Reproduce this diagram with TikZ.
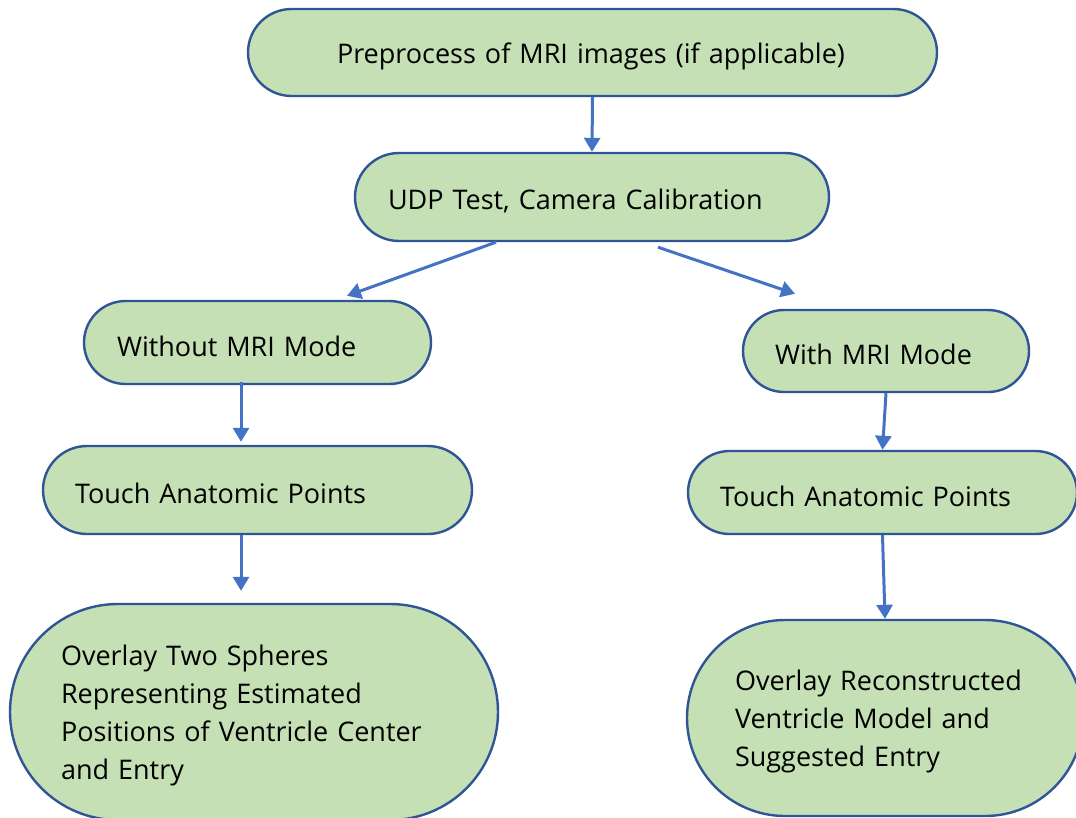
\documentclass[tikz,border=0pt]{standalone}
\usepackage{fontspec}
\setmainfont{Open Sans}
\usetikzlibrary{arrows.meta}
\definecolor{boxfill}{HTML}{C5E0B4}
\definecolor{boxline}{HTML}{2F5597}
\definecolor{arrowblue}{HTML}{4472C4}
% lower a line of a label a little without changing its box
\newcommand{\lowtext}[1]{\raisebox{-3.5pt}[\height][\depth]{#1}}
\tikzset{
  pill/.style={draw=boxline, fill=boxfill, line width=2.4pt, align=left,
    font=\fontsize{27}{38}\selectfont, text=black, inner ysep=0pt},
  arr/.style={draw=arrowblue, line width=3pt,
    -{Triangle[length=14pt,width=16pt]}},
}
\begin{document}
\begin{tikzpicture}[x=1pt,y=-1pt]
\useasboundingbox (0,0) rectangle (1076,817);
\clip (0,0) rectangle (1076,817);
% pill-shaped step boxes: rounded corners at half height, text set from the left
\node[pill, rounded corners=43.5pt, minimum height=87pt, inner xsep=89pt, text width=511pt]
  (pre) at (592.5,52.5) {\lowtext{Preprocess of MRI images (if applicable)}};
\node[pill, rounded corners=44pt, minimum height=88pt, inner xsep=33pt, text width=408pt]
  (udp) at (592,197) {\lowtext{UDP Test, Camera Calibration}};
\node[pill, rounded corners=41.5pt, minimum height=83pt, inner xsep=33pt, text width=281pt]
  (wo) at (257.5,342.5) {\lowtext{Without MRI Mode}};
\node[pill, rounded corners=41pt, minimum height=82pt, inner xsep=32pt, text width=222pt]
  (wi) at (886,351) {\lowtext{With MRI Mode}};
\node[pill, rounded corners=44pt, minimum height=88pt, inner xsep=32pt, text width=365pt]
  (tl) at (257.5,490) {\lowtext{Touch Anatomic Points}};
\node[pill, rounded corners=41.5pt, minimum height=83pt, inner xsep=32pt, text width=325pt]
  (tr) at (882.5,492.5) {\lowtext{Touch Anatomic Points}};
\node[pill, rounded corners=108pt, minimum height=216pt, inner xsep=51pt, text width=386pt]
  (ol) at (254,712) {\lowtext{Overlay Two Spheres}\\\lowtext{Representing Estimated}\\
    \lowtext{Positions of Ventricle Center}\\\lowtext{and Entry}};
\node[pill, rounded corners=98pt, minimum height=196pt, inner xsep=48pt, text width=300pt]
  (or) at (885,718) {\lowtext{Overlay Reconstructed}\\\lowtext{Ventricle Model and}\\
    \lowtext{Suggested Entry}};
% connectors
\draw[arr] (pre.south) -- (udp.north);
\draw[arr] ([xshift=-96pt]udp.south) -- ([xshift=89.5pt,yshift=4pt]wo.north);
\draw[arr] ([xshift=66pt,yshift=-5pt]udp.south) -- ([xshift=-91pt,yshift=15pt]wi.north);
\draw[arr] ([xshift=-16.5pt,yshift=3pt]wo.south) -- ([xshift=-16.5pt,yshift=3pt]tl.north);
\draw[arr] (wi.south) -- (tr.north);
\draw[arr] ([xshift=-16.5pt]tl.south) -- ([xshift=-13pt,yshift=12pt]ol.north);
\draw[arr] (tr.south) -- (or.north);
\end{tikzpicture}
\end{document}
